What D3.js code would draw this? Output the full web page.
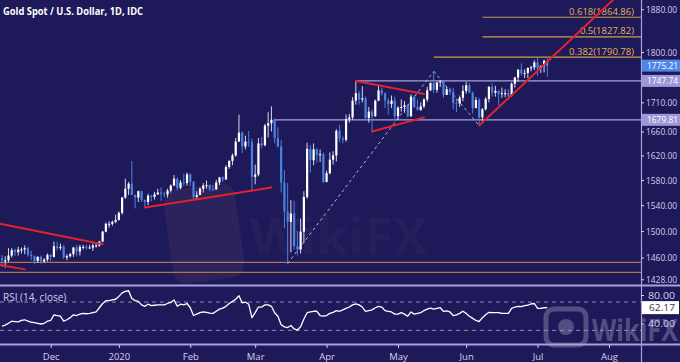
<!DOCTYPE html>
<html><head><meta charset="utf-8">
<script src="https://cdn.jsdelivr.net/npm/d3@7/dist/d3.min.js"></script>
<style>html,body{margin:0;padding:0;background:#1e1959;}svg{display:block}</style>
</head><body><svg id="c" width="680" height="362"></svg>
<script>
const title = "Gold Spot / U.S. Dollar, 1D, IDC";
const dates = ["2019-11-11","2019-11-12","2019-11-13","2019-11-14","2019-11-15","2019-11-18","2019-11-19","2019-11-20","2019-11-21","2019-11-22","2019-11-25","2019-11-26","2019-11-27","2019-11-28","2019-11-29",
"2019-12-02","2019-12-03","2019-12-04","2019-12-05","2019-12-06","2019-12-09","2019-12-10","2019-12-11","2019-12-12","2019-12-13","2019-12-16","2019-12-17","2019-12-18","2019-12-19","2019-12-20","2019-12-23","2019-12-24","2019-12-26","2019-12-27","2019-12-30","2019-12-31",
"2020-01-02","2020-01-03","2020-01-06","2020-01-07","2020-01-08","2020-01-09","2020-01-10","2020-01-13","2020-01-14","2020-01-15","2020-01-16","2020-01-17","2020-01-20","2020-01-21","2020-01-22","2020-01-23","2020-01-24","2020-01-27","2020-01-28","2020-01-29","2020-01-30","2020-01-31",
"2020-02-03","2020-02-04","2020-02-05","2020-02-06","2020-02-07","2020-02-10","2020-02-11","2020-02-12","2020-02-13","2020-02-14","2020-02-17","2020-02-18","2020-02-19","2020-02-20","2020-02-21","2020-02-24","2020-02-25","2020-02-26","2020-02-27","2020-02-28",
"2020-03-02","2020-03-03","2020-03-04","2020-03-05","2020-03-06","2020-03-09","2020-03-10","2020-03-11","2020-03-12","2020-03-13","2020-03-16","2020-03-17","2020-03-18","2020-03-19","2020-03-20","2020-03-23","2020-03-24","2020-03-25","2020-03-26","2020-03-27","2020-03-30","2020-03-31",
"2020-04-01","2020-04-02","2020-04-03","2020-04-06","2020-04-07","2020-04-08","2020-04-09","2020-04-10","2020-04-13","2020-04-14","2020-04-15","2020-04-16","2020-04-17","2020-04-20","2020-04-21","2020-04-22","2020-04-23","2020-04-24","2020-04-27","2020-04-28","2020-04-29","2020-04-30",
"2020-05-01","2020-05-04","2020-05-05","2020-05-06","2020-05-07","2020-05-08","2020-05-11","2020-05-12","2020-05-13","2020-05-14","2020-05-15","2020-05-18","2020-05-19","2020-05-20","2020-05-21","2020-05-22","2020-05-25","2020-05-26","2020-05-27","2020-05-28","2020-05-29",
"2020-06-01","2020-06-02","2020-06-03","2020-06-04","2020-06-05","2020-06-08","2020-06-09","2020-06-10","2020-06-11","2020-06-12","2020-06-15","2020-06-16","2020-06-17","2020-06-18","2020-06-19","2020-06-22","2020-06-23","2020-06-24","2020-06-25","2020-06-26","2020-06-29","2020-06-30",
"2020-07-01","2020-07-02","2020-07-06","2020-07-07"];
const opens = [1459,1456,1456,1463,1471,1468,1472,1472,1474,1464,1462,1455,1461,1454,1457,
1464,1461,1477,1474,1476,1460,1462,1465,1475,1469,1476,1476,1475,1475,1478,1478,1484,1499,1511,1511,1514,
1517,1528,1552,1566,1574,1556,1552,1562,1548,1545,1555,1553,1557,1560,1558,1557,1563,1571,1582,1567,1576,1575,
1589,1577,1553,1556,1566,1571,1572,1566,1565,1576,1584,1581,1601,1611,1620,1643,1658,1635,1643,1642,
1585,1589,1640,1637,1670,1674,1680,1649,1635,1576,1530,1514,1527,1477,1472,1499,1553,1631,1612,1630,1621,1622,
1577,1591,1613,1620,1661,1648,1646,1681,1684,1713,1726,1715,1717,1683,1694,1686,1713,1731,1726,1713,1707,1713,
1686,1701,1702,1705,1686,1720,1702,1697,1703,1715,1731,1744,1732,1745,1747,1723,1733,1728,1709,1708,1718,
1730,1740,1727,1700,1714,1684,1698,1716,1737,1727,1730,1725,1726,1726,1722,1743,1754,1768,1761,1762,1771,1772,
1781,1770,1775,1784];
const highs = [1464,1462,1474,1474,1473,1476,1475,1478,1476,1470,1463,1462,1463,1459,1466,
1465,1484,1484,1481,1479,1465,1467,1476,1479,1479,1479,1479,1479,1481,1481,1485,1500,1513,1515,1516,1525,
1530,1553,1582,1577,1611,1557,1563,1563,1549,1558,1556,1561,1566,1568,1561,1566,1573,1588,1584,1580,1590,1592,
1591,1578,1562,1568,1575,1579,1573,1572,1580,1585,1586,1604,1612,1623,1649,1689,1660,1653,1661,1648,
1605,1649,1651,1673,1693,1703,1683,1667,1646,1596,1575,1548,1547,1500,1519,1562,1641,1637,1640,1632,1630,1625,
1595,1625,1627,1664,1671,1652,1689,1690,1719,1748,1730,1738,1720,1702,1698,1715,1739,1736,1727,1717,1722,1720,
1703,1715,1712,1707,1724,1722,1715,1710,1717,1737,1745,1765,1746,1749,1748,1737,1736,1735,1716,1722,1740,
1746,1744,1729,1719,1718,1700,1719,1739,1744,1739,1731,1736,1733,1733,1745,1755,1768,1779,1768,1772,1775,1785,
1789,1775,1786,1788];
const lows = [1446,1445,1453,1460,1462,1463,1466,1465,1461,1456,1450,1452,1451,1452,1454,
1454,1460,1470,1471,1458,1456,1460,1461,1462,1463,1472,1472,1473,1470,1475,1476,1483,1498,1505,1508,1512,
1516,1525,1550,1556,1557,1535,1545,1545,1536,1540,1546,1549,1556,1547,1552,1552,1560,1571,1563,1565,1570,1571,
1570,1548,1548,1556,1560,1566,1562,1562,1564,1572,1577,1580,1598,1604,1618,1643,1624,1630,1634,1562,
1573,1586,1632,1635,1650,1660,1640,1633,1560,1504,1451,1468,1472,1463,1466,1482,1550,1592,1604,1608,1609,1575,
1576,1589,1605,1610,1642,1640,1643,1675,1680,1706,1706,1710,1680,1675,1660,1685,1712,1722,1700,1689,1700,1677,
1680,1694,1692,1684,1685,1700,1696,1695,1700,1711,1730,1726,1727,1737,1718,1723,1723,1698,1693,1702,1712,
1725,1726,1691,1700,1670,1678,1696,1710,1720,1720,1705,1718,1719,1714,1720,1736,1746,1757,1753,1753,1765,1767,
1757,1762,1763,1755];
const closes = [1456,1456,1463,1471,1468,1472,1472,1474,1464,1462,1455,1461,1454,1457,1464,
1461,1477,1474,1476,1460,1462,1465,1475,1469,1476,1476,1475,1475,1478,1478,1484,1499,1511,1511,1514,1517,
1528,1552,1566,1574,1556,1552,1562,1548,1545,1555,1553,1557,1560,1558,1557,1563,1571,1582,1567,1576,1575,1589,
1577,1553,1556,1566,1571,1572,1566,1565,1576,1584,1581,1601,1611,1620,1643,1658,1635,1643,1642,1585,
1589,1640,1637,1670,1674,1680,1649,1635,1576,1530,1514,1527,1477,1472,1499,1553,1631,1612,1630,1621,1622,1577,
1591,1613,1620,1661,1648,1646,1681,1684,1713,1726,1715,1717,1683,1694,1686,1713,1731,1726,1713,1707,1713,1686,
1701,1702,1705,1686,1720,1702,1697,1703,1715,1731,1744,1732,1745,1747,1723,1733,1728,1709,1708,1718,1730,
1740,1727,1700,1714,1684,1698,1716,1737,1727,1730,1725,1726,1726,1722,1743,1754,1768,1761,1762,1771,1772,1781,
1770,1775,1784,1775.21];
const rsi = [36,37.5,40,43,42.5,42,44,45,43,41.5,41,40,39,40,43,
44,52,51,50,43,45,48,52,51,53,54,53.5,54,55,56,62,68,72,72,73,74,
78,83,85,86,75,72,71,66,64,67,65,65.5,66,66,66,68,69.5,73,64,67,66,68,
62,51,53,55,56,55.5,54.5,54,57,60,61.5,64,68,71,74,79,69,70,67,48,
55,63,63,66,66,64,55,50,38,35,34,37,32,30.5,35,46,55,56,57,57,51,50,
51,54,55.5,58,57,59,61,63,66,67.5,66,63,57,58,59,62,64,63,58,57,56,53,
53,55,53,50,56,53,54,55,58,60,61.5,60,61,62,57,57.5,56,51,52,54,57,
54,50,47,44,42.5,48,52,55.5,55,55,55,54,54,54,61,63,64,63.5,65,65.5,67.5,68,
61,61,62,62.17];

const priceTicks = [1880,1800,1710,1660,1620,1580,1540,1500,1460,1428];
const rsiTicks = [80,40];
const rsiGuides = [70,30];
const monthLabels = ["Dec","2020","Feb","Mar","Apr","May","Jun","Jul","Aug"];
const monthStarts = ["2019-12-02","2020-01-02","2020-02-03","2020-03-02","2020-04-01","2020-05-01","2020-06-01","2020-07-01","2020-08-03"];
const fibLabels = ["0.618(1864.86)","0.5(1827.82)","0.382(1790.78)"];
const fibValues = [1864.86,1827.82,1790.78];
const fibStarts = ["2020-06-08","2020-06-08","2020-05-18"];
const levelValues = [1747.74,1679.81];
const levelStarts = ["2020-04-14","2020-03-10"];
const levelLabels = ["1747.74","1679.81"];
const supportValues = [1452.9,1438.1];
const trendLines = [
  [["2019-11-11",1510.5],["2019-12-24",1480]],
  [["2019-11-11",1448.5],["2019-11-20",1442.5]],
  [["2020-01-14",1536.4],["2020-03-09",1568]],
  [["2020-04-14",1747.7],["2020-05-13",1724.5]],
  [["2020-04-21",1660],["2020-05-13",1684]],
  [["2020-06-05",1670],["2020-07-01",1766]]
];
const extendLast = [false,false,false,false,false,true];
const dashedLines = [
  [["2020-03-16",1451],["2020-05-18",1765]],
  [["2020-05-18",1765],["2020-06-05",1670]]
];
const lastPriceLabel = "1775.21";
const lastRsiLabel = "62.17";

// ---------- layout ----------
const W = 680, H = 362;
const axisX = 641;
const mainBottom = 285;
const rsiTop = 287, rsiBottom = 344;
const BG = "#1e1959";
const UP = "#ffffff", DOWN = "#4b82e0";
const AXIS_TXT = "#d4d0ee";
const FONT = "'Open Sans', 'DejaVu Sans', sans-serif";

const svg = d3.select("#c");
svg.append("rect").attr("width",W).attr("height",H).attr("fill",BG);

const parse = d3.utcParse("%Y-%m-%d");
function idxOf(s){
  const k = dates.indexOf(s);
  if (k >= 0) return k;
  let d = parse(dates[dates.length-1]), t = parse(s), n = dates.length-1;
  while (d < t){ d = d3.utcDay.offset(d,1); const wd = d.getUTCDay(); if (wd!==0 && wd!==6) n++; }
  return n;
}

const x = d3.scaleLinear().domain([0, idxOf("2020-08-03")]).range([2, 609]);
const y = d3.scaleLog().domain([1428, 1880]).range([279.3, 9.3]);
const yR = d3.scaleLinear().domain([40, 80]).range([323.3, 295]);

const defs = svg.append("defs");
defs.append("clipPath").attr("id","clipMain").append("rect").attr("x",0).attr("y",0).attr("width",axisX).attr("height",mainBottom);
defs.append("clipPath").attr("id","clipRsi").append("rect").attr("x",0).attr("y",rsiTop).attr("width",axisX).attr("height",rsiBottom-rsiTop);

// ---------- watermark (center) ----------
const wm = svg.append("g").attr("pointer-events","none");
wm.append("rect").attr("x",168).attr("y",186).attr("width",72).attr("height",95).attr("rx",14)
  .attr("fill","#6b4a6a").attr("opacity",0.2).attr("transform","rotate(-8,204,233)");
wm.append("text").attr("x",250).attr("y",255).attr("font-family",FONT).attr("font-weight","bold")
  .attr("font-size",52).attr("fill","#6b4a6a").attr("opacity",0.12).text("WikiFX");

// ---------- main pane ----------
const main = svg.append("g").attr("clip-path","url(#clipMain)");

main.selectAll("line.sup").data(supportValues).join("line")
  .attr("x1",0).attr("x2",axisX).attr("y1",d=>y(d)).attr("y2",d=>y(d))
  .attr("stroke","#b0764a").attr("stroke-width",1.2);

main.selectAll("line.lvl").data(levelValues).join("line")
  .attr("x1",(d,i)=>x(idxOf(levelStarts[i]))).attr("x2",axisX)
  .attr("y1",d=>y(d)).attr("y2",d=>y(d))
  .attr("stroke","#a8a2dc").attr("stroke-width",1.2);

main.selectAll("line.fib").data(fibValues).join("line")
  .attr("x1",(d,i)=>x(idxOf(fibStarts[i]))).attr("x2",axisX)
  .attr("y1",d=>y(d)).attr("y2",d=>y(d))
  .attr("stroke","#c9a24c").attr("stroke-width",1.2);
main.selectAll("text.fib").data(fibValues).join("text")
  .attr("x",634).attr("y",d=>y(d)-2.5).attr("text-anchor","end")
  .attr("font-family",FONT).attr("font-size",9.5).attr("fill","#e2b455")
  .text((d,i)=>fibLabels[i]);

main.selectAll("line.dash").data(dashedLines).join("line")
  .attr("x1",d=>x(idxOf(d[0][0]))).attr("y1",d=>y(d[0][1]))
  .attr("x2",d=>x(idxOf(d[1][0]))).attr("y2",d=>y(d[1][1]))
  .attr("stroke","#b4b0e4").attr("stroke-width",1).attr("stroke-dasharray","3,3");

const n = dates.length;
const idx = d3.range(n);
const isUp = i => closes[i] >= opens[i];
main.selectAll("line.wick").data(idx).join("line")
  .attr("x1",i=>x(i)).attr("x2",i=>x(i))
  .attr("y1",i=>y(highs[i])).attr("y2",i=>y(lows[i]))
  .attr("stroke",i=>isUp(i)?"#d8d6f2":DOWN).attr("stroke-width",1);
main.selectAll("rect.body").data(idx).join("rect")
  .attr("x",i=>x(i)-1.1).attr("width",2.2)
  .attr("y",i=>y(Math.max(opens[i],closes[i])))
  .attr("height",i=>Math.max(1,Math.abs(y(opens[i])-y(closes[i]))))
  .attr("fill",i=>isUp(i)?UP:DOWN);

trendLines.forEach((t,k)=>{
  const ax = x(idxOf(t[0][0])), bx = x(idxOf(t[1][0]));
  let x1 = ax, y1 = y(t[0][1]), x2 = bx, y2 = y(t[1][1]);
  const s = (y2-y1)/(x2-x1);
  if (ax <= 3) { y1 = y1 + s*(0-ax); x1 = 0; }
  if (extendLast[k]) { const ny = -5; x2 = x1 + (ny-y1)/s; y2 = ny; }
  main.append("line").attr("x1",x1).attr("y1",y1).attr("x2",x2).attr("y2",y2)
    .attr("stroke","#e3222a").attr("stroke-width",2).attr("stroke-linecap","round");
});

// ---------- RSI pane ----------
const rp = svg.append("g").attr("clip-path","url(#clipRsi)");
rp.selectAll("line.g").data(rsiGuides).join("line")
  .attr("x1",0).attr("x2",axisX).attr("y1",d=>yR(d)).attr("y2",d=>yR(d))
  .attr("stroke","#8f8ac0").attr("stroke-width",1).attr("stroke-dasharray","4,4");
rp.append("path").datum(idx)
  .attr("d", d3.line().x(i=>x(i)).y(i=>yR(rsi[i])))
  .attr("fill","none").attr("stroke","#ffffff").attr("stroke-width",1.3).attr("stroke-linejoin","round");
svg.append("text").attr("x",3).attr("y",301).attr("font-family",FONT).attr("font-size",10)
  .attr("fill",AXIS_TXT).text("RSI (14, close)");

// bottom-right watermark
const wm2 = svg.append("g").attr("opacity",0.4);
wm2.append("rect").attr("x",546).attr("y",309).attr("width",40).attr("height",36).attr("rx",8)
  .attr("fill","none").attr("stroke","#a29ebc").attr("stroke-width",5);
wm2.append("circle").attr("cx",566).attr("cy",327).attr("r",8).attr("fill","#a29ebc");
wm2.append("text").attr("x",592).attr("y",341).attr("font-family",FONT).attr("font-weight","bold")
  .attr("font-size",30).attr("fill","#a29ebc").attr("textLength",86).attr("lengthAdjust","spacingAndGlyphs").text("WikiFX");

// ---------- frames ----------
svg.append("line").attr("x1",0).attr("x2",W).attr("y1",mainBottom+0.5).attr("y2",mainBottom+0.5)
  .attr("stroke","#a7a1dc").attr("stroke-width",2);
svg.append("line").attr("x1",0).attr("x2",W).attr("y1",rsiBottom+0.5).attr("y2",rsiBottom+0.5)
  .attr("stroke","#a7a1dc").attr("stroke-width",2);
svg.append("line").attr("x1",axisX+0.5).attr("x2",axisX+0.5).attr("y1",0).attr("y2",H)
  .attr("stroke","#a7a1dc").attr("stroke-width",1.2);

// ---------- price axis ----------
const LBL_W = 31;
const pa = svg.append("g").attr("transform",`translate(${axisX},0)`)
  .call(d3.axisRight(y).tickValues(priceTicks).tickSize(3).tickFormat(d3.format(".2f")));
pa.select(".domain").remove();
pa.selectAll("line").attr("stroke",AXIS_TXT);
pa.selectAll("text").attr("font-family",FONT).attr("font-size",9.5).attr("fill",AXIS_TXT).attr("x",5)
  .attr("textLength",LBL_W).attr("lengthAdjust","spacingAndGlyphs");

function priceBox(val, label, bg, fg){
  const g = svg.append("g").attr("transform",`translate(${axisX+1},${y(val)})`);
  g.append("rect").attr("x",0).attr("y",-6).attr("width",W-axisX).attr("height",12).attr("fill",bg);
  g.append("text").attr("x",5).attr("y",3.5).attr("font-family",FONT).attr("font-size",9.5).attr("fill",fg)
    .attr("textLength",LBL_W).attr("lengthAdjust","spacingAndGlyphs").text(label);
}
levelValues.forEach((v,i)=>priceBox(v, levelLabels[i], "#9d96d8", "#ffffff"));
priceBox(closes[n-1], lastPriceLabel, "#4f86e8", "#ffffff");

// ---------- RSI axis ----------
const ra = svg.append("g").attr("transform",`translate(${axisX},0)`)
  .call(d3.axisRight(yR).tickValues(rsiTicks).tickSize(3).tickFormat(d3.format(".2f")));
ra.select(".domain").remove();
ra.selectAll("line").attr("stroke",AXIS_TXT);
ra.selectAll("text").attr("font-family",FONT).attr("font-size",9.5).attr("fill",AXIS_TXT).attr("x",7)
  .attr("textLength",27).attr("lengthAdjust","spacingAndGlyphs");
const rb = svg.append("g").attr("transform",`translate(${axisX+1},${yR(rsi[n-1])})`);
rb.append("rect").attr("x",0).attr("y",-6.5).attr("width",W-axisX-2).attr("height",13).attr("fill","#ffffff");
rb.append("text").attr("x",7).attr("y",3.5).attr("font-family",FONT).attr("font-size",9.5).attr("fill","#333344")
  .attr("textLength",26).attr("lengthAdjust","spacingAndGlyphs").text(lastRsiLabel);

// ---------- time axis ----------
const ta = svg.append("g").attr("transform",`translate(0,${rsiBottom+1})`)
  .call(d3.axisBottom(x).tickValues(monthStarts.map(idxOf)).tickSize(3).tickFormat((d,i)=>monthLabels[i]));
ta.select(".domain").remove();
ta.selectAll("line").attr("stroke",AXIS_TXT);
ta.selectAll("text").attr("font-family",FONT).attr("font-size",9.5).attr("fill",AXIS_TXT).attr("dy","0.9em");

// ---------- title ----------
svg.append("text").attr("x",3).attr("y",15).attr("font-family",FONT).attr("font-weight","bold")
  .attr("font-size",11).attr("fill","#ffffff").attr("textLength",140).attr("lengthAdjust","spacingAndGlyphs").text(title);
</script></body></html>
